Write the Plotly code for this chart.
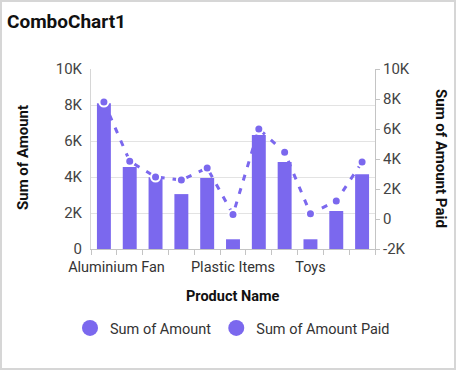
import plotly.graph_objects as go

categories = ["Aluminium Fan", "Baby Products", "Ceiling Fan", "Furniture", "Home Appliances",
              "Plastic Items", "Sports Items", "Stationery", "Toys", "Utensils", "Wooden Items"]
shown_labels = ["Aluminium Fan", "Plastic Items", "Toys"]
sum_amount = [8100, 4550, 3980, 3050, 3950, 540, 6330, 4830, 540, 2110, 4150]
sum_amount_paid = [7800, 3850, 2800, 2600, 3400, 300, 6000, 4450, 350, 1200, 3800]
left_ticks = [0, 2000, 4000, 6000, 8000, 10000]
left_tick_text = ["0", "2K", "4K", "6K", "8K", "10K"]
right_ticks = [-2000, 0, 2000, 4000, 6000, 8000, 10000]
right_tick_text = ["-2K", "0", "2K", "4K", "6K", "8K", "10K"]

COLOR = "#7B68EE"
FONT = "Roboto"
W, H = 456, 370
ML, MR, MT, MB = 91, 81, 69, 121
PW, PH = W - ML - MR, H - MT - MB
BOTTOM = H - MB

ticktext = []
for c in categories:
    if c == "Aluminium Fan":
        ticktext.append("\u00a0" * 7 + c)
    elif c in shown_labels:
        ticktext.append(c)
    else:
        ticktext.append("")

fig = go.Figure()
fig.add_trace(go.Bar(x=categories, y=sum_amount, marker=dict(color=COLOR, line=dict(width=0)),
                     name="Sum of Amount", showlegend=False))
fig.add_trace(go.Scatter(x=categories, y=sum_amount_paid, yaxis="y2", mode="lines+markers",
                         line=dict(color=COLOR, width=3, dash="6px,8px"),
                         marker=dict(color=COLOR, size=9, line=dict(color="white", width=2)),
                         name="Sum of Amount Paid", showlegend=False))
# legend entries (circle symbols)
fig.add_trace(go.Scatter(x=[None], y=[None], mode="markers", name="Sum of Amount",
                         marker=dict(color=COLOR, size=16, symbol="circle")))
fig.add_trace(go.Scatter(x=[None], y=[None], mode="markers", name="Sum of Amount Paid",
                         marker=dict(color=COLOR, size=16, symbol="circle")))

fig.update_layout(
    width=W, height=H,
    margin=dict(l=ML, r=MR, t=MT, b=MB, autoexpand=False),
    paper_bgcolor="white", plot_bgcolor="white",
    font=dict(family=FONT, color="#444", size=15),
    bargap=0.46,
    title=dict(text="<b>ComboChart1</b>", x=7 / W, xanchor="left", y=1 - 21 / H, yanchor="middle",
               font=dict(size=19, color="#111", family=FONT)),
    xaxis=dict(type="category", categoryorder="array", categoryarray=categories,
               tickmode="array", tickvals=categories, ticktext=ticktext,
               tickson="boundaries", ticks="outside", ticklen=5, tickcolor="#c4c4c4",
               showline=True, linecolor="#c4c4c4", linewidth=1, showgrid=False,
               ticklabelstandoff=5,
               tickfont=dict(size=14.5, color="#333"), tickangle=0, range=[-0.5, 10.5],
               automargin=False),
    yaxis=dict(range=[0, 10000], tickmode="array", tickvals=left_ticks, ticktext=left_tick_text,
               showgrid=True, gridcolor="#e3e3e3", gridwidth=1, zeroline=False, automargin=False,
               showline=True, linecolor="#d6d6d6", ticks="", ticklabelstandoff=5,
               tickfont=dict(size=15, color="#444")),
    yaxis2=dict(range=[-2000, 10000], overlaying="y", side="right", tickmode="array",
                tickvals=right_ticks, ticktext=right_tick_text, showgrid=False, zeroline=False,
                showline=True, linecolor="#c4c4c4", ticks="outside", ticklen=4, tickcolor="#c4c4c4",
                tickfont=dict(size=15, color="#444"), automargin=False),
    legend=dict(orientation="h", x=(70 - ML) / PW, xanchor="left",
                y=-(328 - BOTTOM) / PH, yanchor="middle",
                font=dict(size=14.5, color="#333"), itemsizing="trace", bgcolor="rgba(0,0,0,0)"),
    showlegend=True,
    annotations=[
        dict(text="<b>Sum of Amount</b>", textangle=-90, xref="paper", yref="paper",
             x=-(91 - 23) / PW, y=(BOTTOM - 158) / PH, xanchor="center", yanchor="middle",
             showarrow=False, font=dict(size=15, color="#111")),
        dict(text="<b>Sum of Amount Paid</b>", textangle=90, xref="paper", yref="paper",
             x=(441 - 91) / PW, y=(BOTTOM - 158) / PH, xanchor="center", yanchor="middle",
             showarrow=False, font=dict(size=15, color="#111")),
        dict(text="<b>Product Name</b>", xref="paper", yref="paper",
             x=(233 - 91) / PW, y=-(296 - BOTTOM) / PH, xanchor="center", yanchor="middle",
             showarrow=False, font=dict(size=14.5, color="#111")),
    ],
    shapes=[dict(type="rect", xref="paper", yref="paper", layer="above",
                 x0=-(ML - 1) / PW, x1=(W - ML - 1) / PW,
                 y0=-(MB - 1) / PH, y1=(H - MB - 1) / PH,
                 line=dict(color="#d6d6d6", width=2))],
)

fig.write_html("out.html", config={"displayModeBar": False},
               post_script="document.body.style.margin='0';document.body.style.overflow='hidden';")
